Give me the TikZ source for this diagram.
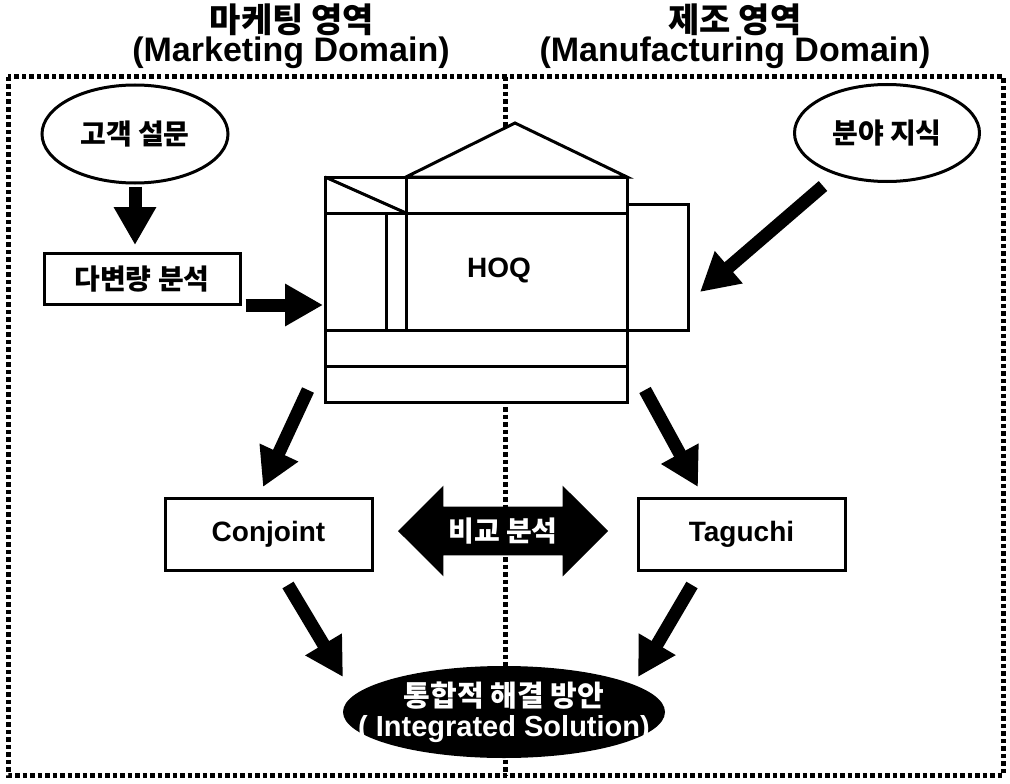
\documentclass[tikz,border=0pt]{standalone}
\usepackage{fontspec}
\setmainfont{Liberation Sans}
\newfontfamily\krfont{Noto Sans CJK KR}
\usetikzlibrary{shapes,arrows.meta,positioning}

\begin{document}
\begin{tikzpicture}[
    x=1pt, y=-1pt,
    headkr/.style={font=\krfont\bfseries\fontsize{34}{38}\selectfont},
    headen/.style={font=\bfseries\fontsize{34}{38}\selectfont},
    krtext/.style={font=\krfont\bfseries\fontsize{28}{32}\selectfont},
    entext/.style={font=\bfseries\fontsize{28}{32}\selectfont},
    box/.style={rectangle, draw, line width=3pt, fill=white, inner sep=0pt},
    oval/.style={ellipse, draw, line width=3pt, fill=white, inner sep=0pt, krtext},
    hoqline/.style={line width=3pt, line join=miter},
    bigarrow/.style={line width=13pt, -{Triangle[length=38pt,width=40pt]}},
    domline/.style={line width=5pt, dash pattern=on 4.5pt off 3pt}
]
\useasboundingbox (0,0) rectangle (1010,784);

% Domains
\draw[domline] (8,77) rectangle (1003,775);
\draw[domline] (505,77) -- (505,775);
\node[headkr] (mkt-kr) at (292,20) {마케팅 영역};
\node[headen] (mkt-en) at (291,53) {(Marketing Domain)};
\node[headkr] (mfg-kr) at (735,20) {제조 영역};
\node[headen] (mfg-en) at (735,53) {(Manufacturing Domain)};

% Marketing side
\node[oval, minimum width=186pt, minimum height=98pt] (survey) at (135,134) {고객 설문};
\node[box, krtext, minimum width=196pt, minimum height=51pt] (mva) at (142,279) {다변량 분석};

% House of quality
\filldraw[hoqline, fill=white] (325,177) rectangle (627,402);
\filldraw[hoqline, fill=white] (406,177) -- (515,123) -- (627,177) -- cycle;
\filldraw[hoqline, fill=white] (627,204) rectangle (688,330);
\draw[hoqline] (325,213) -- (627,213);
\draw[hoqline] (325,177) -- (406,213);
\draw[hoqline] (406,177) -- (406,330);
\draw[hoqline] (386,213) -- (386,330);
\draw[hoqline] (325,330) -- (627,330);
\draw[hoqline] (325,366) -- (627,366);
\node[entext] (hoq) at (499,270) {HOQ};
\coordinate (hoq-w) at (325,305);
\coordinate (hoq-e) at (700,292);
\coordinate (hoq-sw) at (308,390);
\coordinate (hoq-se) at (645,390);

% Manufacturing side
\node[oval, minimum width=185pt, minimum height=97pt] (know) at (887,133) {분야 지식};
\coordinate (know-out) at (823,186);

% Conjoint / Taguchi
\node[box, entext, minimum width=207pt, minimum height=72pt] (conj) at (268.5,534) {Conjoint};
\node[box, entext, minimum width=207pt, minimum height=72pt] (tag) at (741.5,534) {Taguchi};
\coordinate (conj-in) at (263,487);
\coordinate (tag-in) at (698,487);
\coordinate (conj-out) at (288,585);
\coordinate (tag-out) at (692,585);
\node[double arrow, fill=black, text=white, krtext, minimum height=210pt,
      double arrow head extend=21pt, inner xsep=2pt, inner ysep=11pt] (cmp) at (503,531) {비교 분석};

% Solution
\node[ellipse, fill=black, text=white, minimum width=322pt, minimum height=92pt,
      inner xsep=-34pt, inner ysep=0pt, align=center, font=\fontsize{29}{30}\selectfont] (sol) at (504,712)
      {{\krfont\bfseries 통합적 해결 방안}\\{\bfseries ( Integrated Solution)}};
\coordinate (sol-w) at (343,677);
\coordinate (sol-e) at (638,677);

% Connections
\draw[bigarrow, shorten <=2pt, shorten >=7pt] (survey.south) -- (survey.south |- mva.north);
\draw[bigarrow, shorten <=4pt, shorten >=2pt] (mva.east |- hoq-w) -- (hoq-w);
\draw[bigarrow] (know-out) -- (hoq-e);
\draw[bigarrow] (hoq-sw) -- (conj-in);
\draw[bigarrow] (hoq-se) -- (tag-in);
\draw[bigarrow] (conj-out) -- (sol-w);
\draw[bigarrow] (tag-out) -- (sol-e);

\end{tikzpicture}
\end{document}
